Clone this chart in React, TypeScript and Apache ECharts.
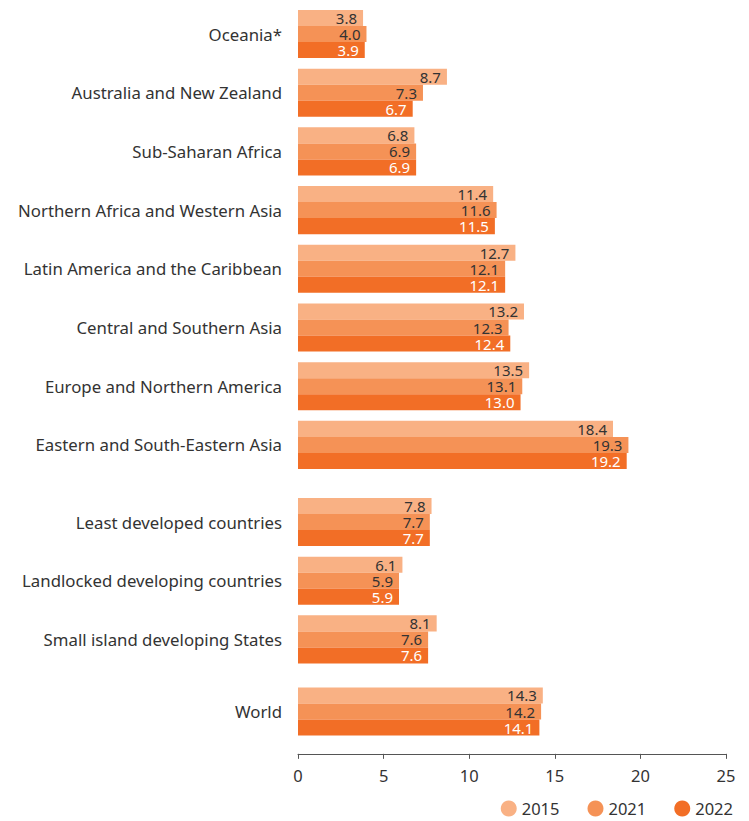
import React, { useEffect, useRef } from "react";
import * as echarts from "echarts";

const regions = [
  "Oceania*",
  "Australia and New Zealand",
  "Sub-Saharan Africa",
  "Northern Africa and Western Asia",
  "Latin America and the Caribbean",
  "Central and Southern Asia",
  "Europe and Northern America",
  "Eastern and South-Eastern Asia",
];
const groups = [
  "Least developed countries",
  "Landlocked developing countries",
  "Small island developing States",
];
const world = ["World"];

const years = ["2015", "2021", "2022"];

const regions2015 = [3.8, 8.7, 6.8, 11.4, 12.7, 13.2, 13.5, 18.4];
const regions2021 = [4.0, 7.3, 6.9, 11.6, 12.1, 12.3, 13.1, 19.3];
const regions2022 = [3.9, 6.7, 6.9, 11.5, 12.1, 12.4, 13.0, 19.2];

const groups2015 = [7.8, 6.1, 8.1];
const groups2021 = [7.7, 5.9, 7.6];
const groups2022 = [7.7, 5.9, 7.6];

const world2015 = [14.3];
const world2021 = [14.2];
const world2022 = [14.1];

const xTicks = [0, 5, 10, 15, 20, 25];

const colors = ["#F9B184", "#F59256", "#F26E26"];
const labelColors = ["#333333", "#333333", "#FFFFFF"];
const FONT = "Noto Sans";

export default function App() {
  const ref = useRef<HTMLDivElement>(null);
  useEffect(() => {
    document.body.style.margin = "0";
    if (!ref.current) return;
    const chart = echarts.init(ref.current, null, { renderer: "svg" });
    const band = 58.7;
    const grids = [
      { left: 298, right: 23, top: 34 - band / 2, height: band * 8 },
      { left: 298, right: 23, top: 522 - band / 2, height: band * 3 },
      { left: 298, right: 23, top: 711.5 - band / 2, height: band },
    ];
    const cats = [regions, groups, world];
    const data = [
      [regions2015, regions2021, regions2022],
      [groups2015, groups2021, groups2022],
      [world2015, world2021, world2022],
    ];
    const xAxes = grids.map((_, i) => ({
      type: "value",
      gridIndex: i,
      min: 0,
      max: xTicks[xTicks.length - 1],
      interval: 5,
      show: i === 2,
      offset: i === 2 ? 13 : 0,
      axisLine: { show: true, lineStyle: { color: "#555", width: 1 } },
      axisTick: { show: true, length: 5, lineStyle: { color: "#555" } },
      axisLabel: { color: "#333", fontSize: 16.5, fontFamily: FONT, margin: 13 },
      splitLine: { show: false },
    }));
    const yAxes = grids.map((_, i) => ({
      type: "category",
      gridIndex: i,
      data: cats[i],
      inverse: true,
      axisLine: { show: false },
      axisTick: { show: false },
      axisLabel: { color: "#333", fontSize: 16.8, fontFamily: FONT, margin: 16 },
    }));
    const series: any[] = [];
    grids.forEach((_, gi) => {
      years.forEach((y, yi) => {
        series.push({
          name: y,
          type: "bar",
          xAxisIndex: gi,
          yAxisIndex: gi,
          data: data[gi][yi],
          barGap: "0%",
          barCategoryGap: "18%",
          itemStyle: { color: colors[yi] },
          label: {
            show: true,
            position: "insideRight",
            distance: 6,
            color: labelColors[yi],
            fontSize: 15,
            lineHeight: 14,
            fontFamily: FONT,
            formatter: (p: any) => Number(p.value).toFixed(1),
          },
        });
      });
    });
    chart.setOption({
      animation: false,
      color: colors,
      grid: grids,
      xAxis: xAxes,
      yAxis: yAxes,
      legend: {
        data: years.map((y, i) => ({ name: y, itemStyle: { color: colors[i] } })),
        icon: "circle",
        itemWidth: 16,
        itemHeight: 16,
        itemGap: 28,
        right: 16,
        top: 800,
        padding: 0,
        textStyle: { color: "#333", fontSize: 16.5, fontFamily: FONT },
      },
      series,
    });
    return () => chart.dispose();
  }, []);
  return <div ref={ref} style={{ width: 749, height: 821 }} />;
}
